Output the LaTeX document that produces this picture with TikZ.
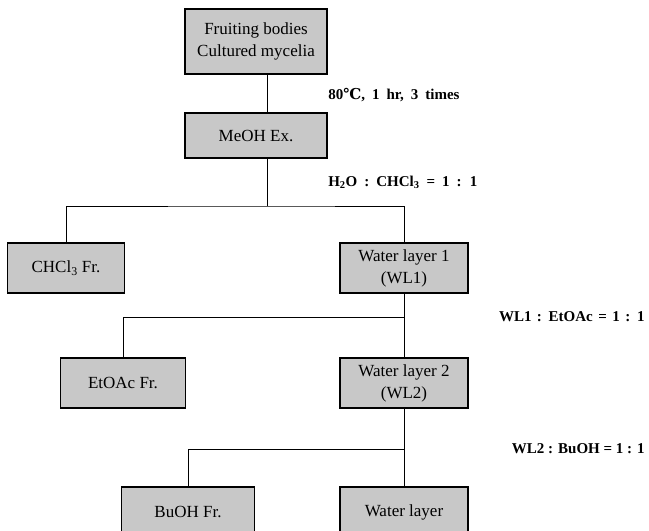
\documentclass[tikz,border=0pt]{standalone}
\usepackage{fontspec}
\setmainfont{Liberation Serif}
\newfontfamily\degfont{DejaVu Serif}
\definecolor{box_gray}{RGB}{200, 200, 200}
\tikzstyle{layer}=[rectangle,fill=box_gray,draw=black,line width=1.3pt,
  inner sep=3pt,minimum width=128pt,minimum height=50pt,align=center,
  font=\fontsize{17}{22}\selectfont]
\tikzstyle{cond}=[anchor=west,inner sep=0pt,font=\bfseries\fontsize{15}{18}\selectfont]

\begin{document}
\begin{tikzpicture}[x=1pt,y=-1pt,line width=0.6pt]
    \clip (0,0) rectangle (649,531);
    \fill [white] (0,0) rectangle (649,531);
    \node [style=layer,minimum width=142pt,minimum height=65pt] (body) at (256,41.5) {Fruiting bodies\\Cultured mycelia};
    \node [style=layer,minimum width=142pt,minimum height=45pt] (meoh) at (256,135.5) {MeOH Ex.};
    \node [style=layer,minimum width=117pt] (chcl) at (66,268) {CHCl\textsubscript{3} Fr.};
    \node [style=layer] (wl1) at (404,268) {Water layer 1\\(WL1)};
    \node [style=layer,minimum width=125pt] (etoac) at (123,383) {EtOAc Fr.};
    \node [style=layer] (wl2) at (404,383) {Water layer 2\\(WL2)};
    \node [style=layer,minimum width=133pt] (buoh) at (188,512) {BuOH Fr.};
    \node [style=layer] (water) at (404,512) {Water layer};
    \coordinate (s1) at (267,206);
    \coordinate (s2) at (404,317);
    \coordinate (s3) at (404,449);
    % conditions
    \node [style=cond] (heat) at (328,95) {\spaceskip=7pt 80{\degfont\bfseries ℃}, 1 hr, 3 times};
    \node [style=cond] (part1) at (328,182) {\spaceskip=7pt H\textsubscript{2}O : CHCl\textsubscript{3} = 1 : 1};
    \node [style=cond,anchor=east] (part2) at (645,317) {\spaceskip=5.5pt WL1 : EtOAc = 1 : 1};
    \node [style=cond,anchor=east] (part3) at (645,449) {WL2 : BuOH = 1 : 1};
    \draw (body.south -| s1) to (meoh.north -| s1);
    \draw (meoh.south -| s1) to (s1);
    \draw (chcl.north) |- (s1) -| (wl1.north);
    \draw (wl1.south) to (s2);
    \draw (etoac.north) |- (s2);
    \draw (s2) to (wl2.north);
    \draw (wl2.south) to (s3);
    \draw (buoh.north) |- (s3);
    \draw (s3) to (water.north);
  \end{tikzpicture}
\end{document}
